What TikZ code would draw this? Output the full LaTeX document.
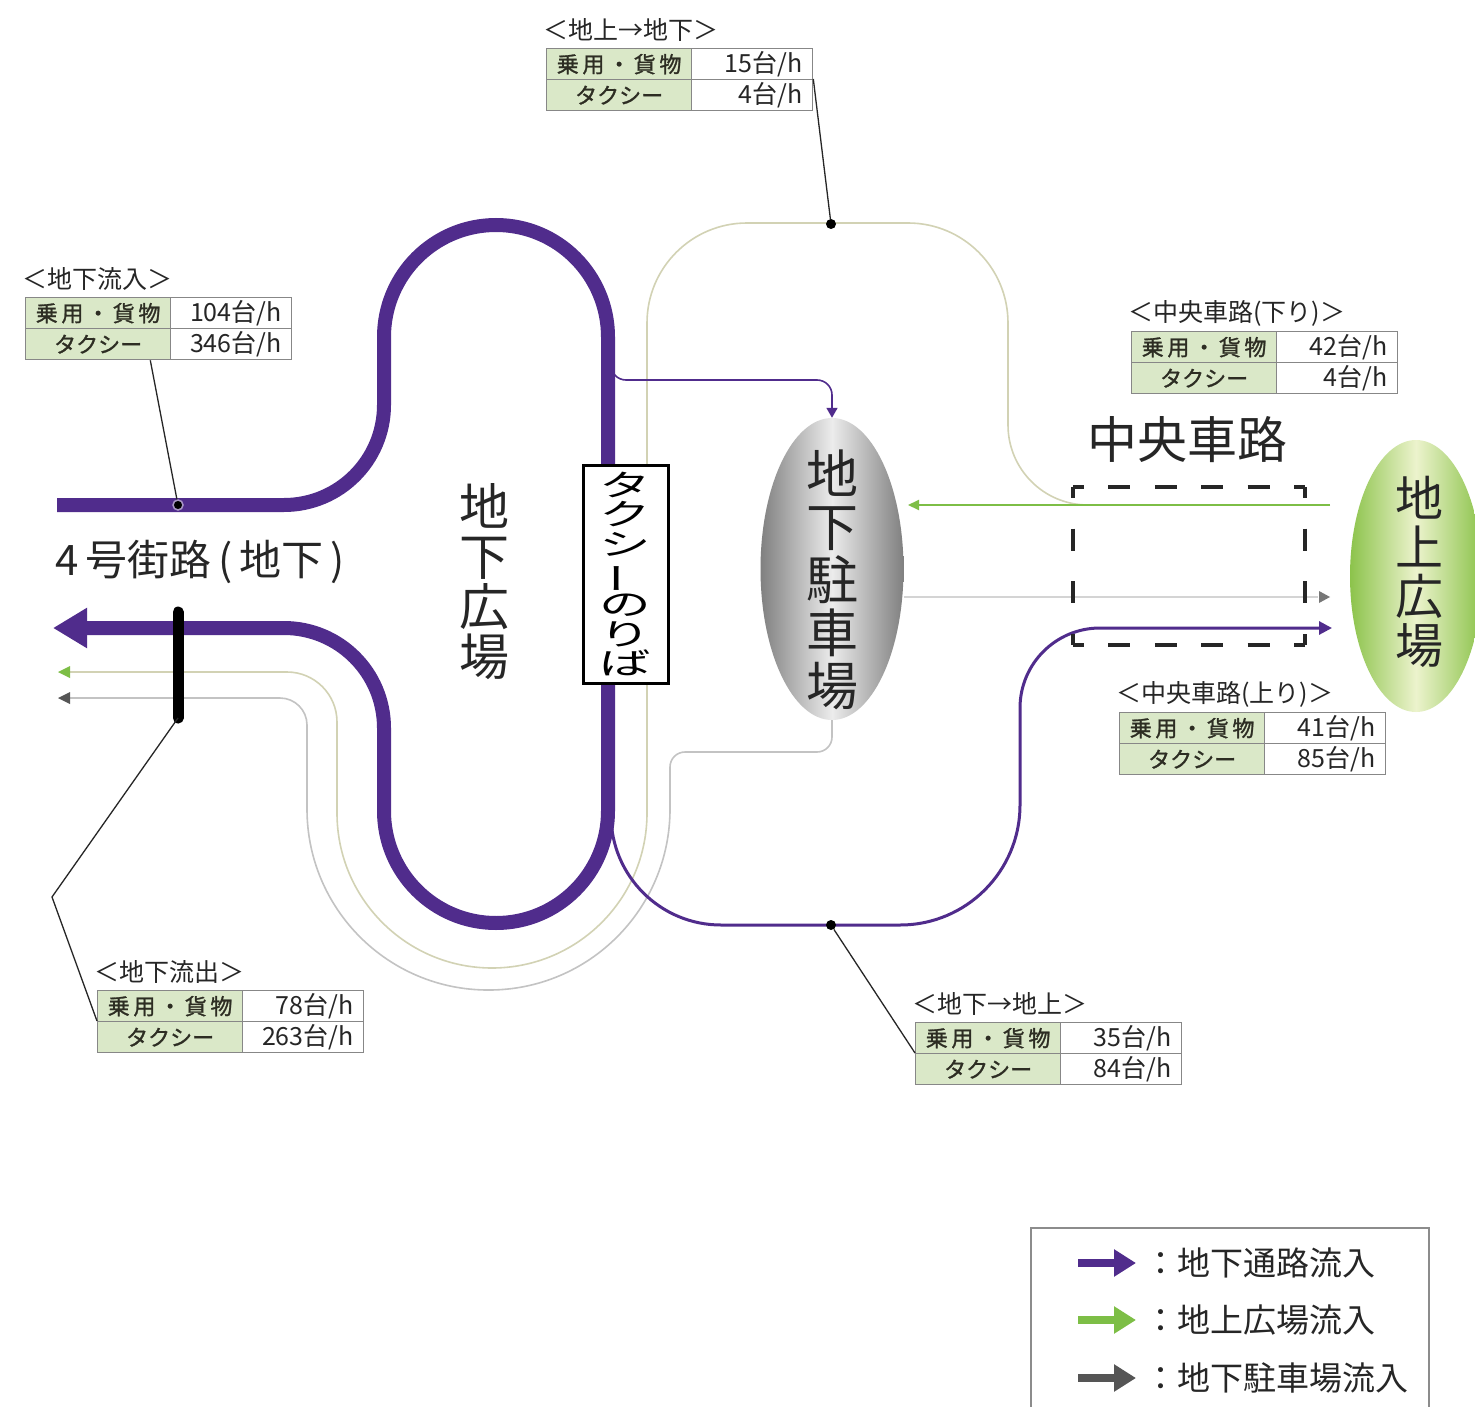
\documentclass[tikz,border=0pt]{standalone}
\usepackage{fontspec}
\usepackage{graphicx}
\setmainfont{Noto Sans CJK JP}
\newfontfamily\jpbold[FakeBold=1.2]{Noto Sans CJK JP}
\usetikzlibrary{arrows.meta,shapes.geometric,calc}
\definecolor{vpurple}{RGB}{80,44,140}
\definecolor{vgreen}{RGB}{125,190,70}
\definecolor{loopolive}{RGB}{210,210,180}
\definecolor{loopgray}{RGB}{195,195,195}
\definecolor{midgray}{RGB}{212,212,212}
\definecolor{cellgreen}{RGB}{218,232,200}
\definecolor{tblborder}{RGB}{135,135,135}
\definecolor{celltext}{RGB}{45,45,35}
\definecolor{darkgray2}{RGB}{85,85,85}
\definecolor{parkedge}{RGB}{128,128,128}
\definecolor{parkmid}{RGB}{236,236,236}
\definecolor{plazaedge}{RGB}{140,195,75}
\definecolor{plazamid}{RGB}{236,243,205}
\newcommand\sx[1]{\scalebox{1.72}[1]{#1}}
\newcommand\fsz[2]{\fontsize{#1}{#2}\selectfont}
\newcommand\flowtable[6]{%
  \node[tbltitle] (#1t) at (#2-3,#3-18) {#4};
  \node[leftcell] (#1a) at (#2,#3) {乗\,用\,・\,貨\,物};
  \node[leftcell] (#1b) at (#2,#3+31) {タクシー};
  \node[rightcell] (#1c) at (#2+145,#3) {#5};
  \node[rightcell] (#1d) at (#2+145,#3+31) {#6};
}
\begin{document}
\begin{tikzpicture}[x=1pt,y=-1pt,
  tbltitle/.style={anchor=west, inner sep=0pt, font=\fsz{25}{28}, text=black!85},
  leftcell/.style={draw=tblborder, line width=1.3pt, fill=cellgreen, minimum width=145pt, minimum height=31pt, inner sep=0pt, anchor=north west, font=\jpbold\fsz{22}{26}, text=celltext},
  rightcell/.style={draw=tblborder, line width=1.3pt, fill=white, minimum height=31pt, inner xsep=10pt, inner ysep=0pt, text width=101pt, align=right, anchor=north west, font=\fsz{25}{28}, text=black!85},
  thickroute/.style={draw=vpurple, line width=14pt},
  thinroute/.style={draw=vpurple, line width=3pt},
  olive/.style={draw=loopolive, line width=1.6pt},
  grayloop/.style={draw=loopgray, line width=1.6pt},
  leader/.style={draw=black!85, line width=1.3pt},
  dotmark/.style={circle, fill=black, inner sep=0pt, minimum size=10pt},
  biglabel/.style={align=center, inner sep=0pt, text=black!85},
  dashside/.style={draw=black!85, line width=4pt, line cap=square},
]
\useasboundingbox (0,0) rectangle (1475,1407);
\fill[white] (0,0) rectangle (1475,1407);

% coordinates
\coordinate (inStart) at (57,505);
\coordinate (outTip) at (53,628);
\coordinate (greenIn) at (1330,505);
\coordinate (greenTip) at (908,505);
\coordinate (grayOutTip) at (1330,597);
\coordinate (upTip) at (1332,628);
\coordinate (bartop) at (178,612);
\coordinate (barbot) at (178,718);
\coordinate (bend5) at (52,897);
\coordinate (bx1) at (1073,487);
\coordinate (bx2) at (1305,487);
\coordinate (bx3) at (1305,645);
\coordinate (bx4) at (1073,645);

% ellipses
\node[ellipse, minimum width=143pt, minimum height=302pt, inner sep=0pt,
      left color=parkedge, right color=parkedge, middle color=parkmid] (park) at (832,569) {};
\node[ellipse, minimum width=132pt, minimum height=272pt, inner sep=0pt,
      left color=plazaedge, right color=plazaedge, middle color=plazamid] (plaza) at (1416,576) {};

% thin loops
\draw[olive] (1110,505) [rounded corners=80pt] -- (1008,505) [rounded corners=100pt] -- (1008,223) -- (647,223) [rounded corners=155pt] -- (647,968) -- (337,968) [rounded corners=50pt] -- (337,672) -- (68,672);
\fill[vgreen] (58,672) -- (70,666) -- (70,678) -- cycle;
\draw[grayloop] (park.south) [rounded corners=15pt] -- (832,752) -- (670,752) [rounded corners=181pt] -- (670,990) -- (307,990) [rounded corners=27pt] -- (307,698) -- (68,698);
\fill[darkgray2] (58,698) -- (70,692) -- (70,704) -- cycle;

% green inflow to parking
\draw[vgreen, line width=2.2pt, -{Triangle[length=11pt,width=10pt]}] (greenIn) -- (greenTip);
% gray line parking -> plaza
\draw[midgray, line width=1.8pt] (park.east |- grayOutTip) -- (1318,597);
\fill[darkgray2!80] (1330,597) -- (1319,591) -- (1319,603) -- cycle;

% thick purple route
\draw[thickroute, -{Triangle[length=34pt,width=38pt]}] (inStart) [rounded corners=100pt] -- (384,505) [rounded corners=112pt] -- (384,225) -- (608,225) -- (608,923) -- (384,923) [rounded corners=100pt] -- (384,628) -- (outTip);

% thin purple routes
\draw[vpurple, line width=1.6pt, -{Triangle[length=10pt,width=11pt]}] (611,350) [rounded corners=15pt] -- (611,380) -- (832,380) -- (park.north);
\draw[thinroute, -{Triangle[length=13pt,width=13pt]}] (611,780) [rounded corners=110pt] -- (611,925) [rounded corners=120pt] -- (1020,925) [rounded corners=80pt] -- (1020,628) -- (upTip);

% labels in ellipses
\node[biglabel, font=\fsz{52}{53}] (parklabel) at (832,580) {地\\下\\駐\\車\\場};
\node[biglabel, font=\fsz{48}{49}] (plazalabel) at (1419,572) {地\\上\\広\\場};

% taxi box
\node[draw=black, line width=3pt, fill=white, minimum width=85pt, minimum height=218pt, inner sep=0pt,
      align=center, font=\fsz{30}{29.5}] (taxi) at (625.5,574)
  {\sx{タ}\\\sx{ク}\\\sx{シ}\\\sx{\rotatebox[origin=c]{90}{ー}}\\\sx{の}\\\sx{り}\\\sx{ば}};

% other labels
\node[biglabel, font=\fsz{50}{50}] (chika) at (484,582) {地\\下\\広\\場};
\node[biglabel, anchor=west, font=\fsz{42}{46}] (road) at (55,562) {4\,号街路\,(\,地下\,)};
\node[biglabel, font=\fsz{50}{54}] (central) at (1187,440) {中央車路};

% dashed box (corners as L pieces)
\draw[dashside, dash pattern=on 22pt off 24.4pt, dash phase=11pt] (bx1) -- (bx2);
\draw[dashside, dash pattern=on 22pt off 24.4pt, dash phase=11pt] (bx4) -- (bx3);
\draw[dashside, dash pattern=on 22pt off 30.667pt, dash phase=11pt] (bx1) -- (bx4);
\draw[dashside, dash pattern=on 22pt off 30.667pt, dash phase=11pt] (bx2) -- (bx3);

% black bar
\draw[black, line width=11pt, line cap=round] (bartop) -- (barbot);

% tables
\flowtable{T1}{546}{48}{＜地上→地下＞}{15台/h}{4台/h}
\flowtable{T2}{25}{297}{＜地下流入＞}{104台/h}{346台/h}
\flowtable{T3}{1131}{331}{＜中央車路(下り)＞}{42台/h}{4台/h}
\flowtable{T4}{1119}{712}{＜中央車路(上り)＞}{41台/h}{85台/h}
\flowtable{T5}{97}{990}{＜地下流出＞}{78台/h}{263台/h}
\flowtable{T6}{915}{1022}{＜地下→地上＞}{35台/h}{84台/h}

% marker dots
\node[dotmark] (dot1) at (831,224) {};
\node[dotmark] (dot3) at (831,925) {};
\node[circle, fill=black, draw=vpurple!50, line width=1.5pt, inner sep=0pt, minimum size=10pt] (dot2) at (178,505) {};

% leaders
\draw[leader] (T1d.north east) -- (dot1);
\draw[leader] ($(T2b.south east)+(-21,0)$) -- (dot2);
\draw[leader] (barbot) -- (bend5) -- (T5b.north west);
\draw[leader] (dot3) -- (T6b.north west);

% legend
\node[draw=black!45, line width=1.5pt, minimum width=398pt, minimum height=200pt, anchor=north west, inner sep=0pt] (legend) at (1030,1227) {};
\coordinate (l1a) at (1078,1263); \coordinate (l1b) at (1136,1263);
\coordinate (l2a) at (1078,1320); \coordinate (l2b) at (1136,1320);
\coordinate (l3a) at (1078,1378); \coordinate (l3b) at (1136,1378);
\draw[vpurple, line width=8pt, -{Triangle[length=22pt,width=26pt]}] (l1a) -- (l1b);
\draw[vgreen, line width=8pt, -{Triangle[length=22pt,width=26pt]}] (l2a) -- (l2b);
\draw[darkgray2, line width=8pt, -{Triangle[length=22pt,width=26pt]}] (l3a) -- (l3b);
\node[biglabel, anchor=west, font=\fsz{33}{38}] (leg1) at (1144,1263) {：地下通路流入};
\node[biglabel, anchor=west, font=\fsz{33}{38}] (leg2) at (1144,1320) {：地上広場流入};
\node[biglabel, anchor=west, font=\fsz{33}{38}] (leg3) at (1144,1378) {：地下駐車場流入};
\end{tikzpicture}
\end{document}
